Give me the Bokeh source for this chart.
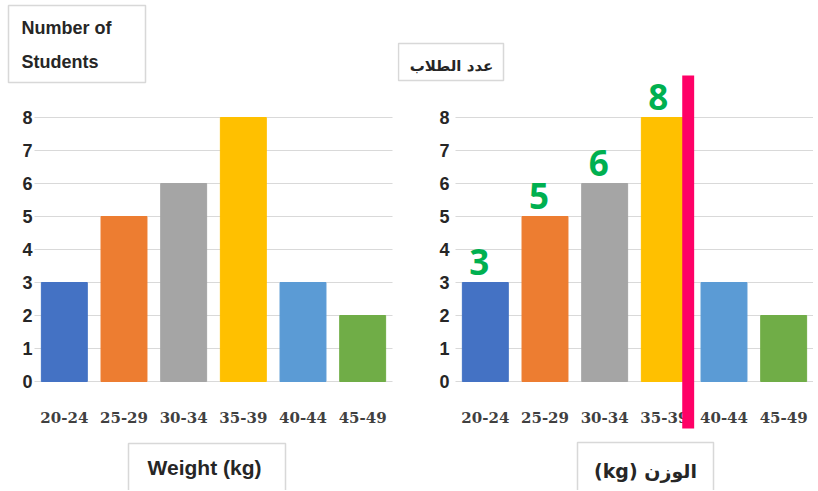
from bokeh.plotting import figure
from bokeh.models import Range1d, BoxAnnotation, Label, ColumnDataSource
from bokeh.layouts import row
from bokeh.embed import file_html
from bokeh.resources import INLINE
from bokeh.core.properties import value

# ---- data ----
categories = ["20-24", "25-29", "30-34", "35-39", "40-44", "45-49"]
counts = [3, 5, 6, 8, 3, 2]
bar_colors = ["#4472C4", "#ED7D31", "#A5A5A5", "#FFC000", "#5B9BD5", "#70AD47"]
y_ticks = [0, 1, 2, 3, 4, 5, 6, 7, 8]
labelled_categories = ["20-24", "25-29", "30-34", "35-39"]
labelled_counts = [3, 5, 6, 8]
cutoff_category = "40-44"

y_title_en = ["Number of", "Students"]
x_title_en = "Weight (kg)"
y_title_ar = "عدد الطلاب"
x_title_ar = "(kg) الوزن"

# ---- layout constants (pixels) ----
H = 490
BASE = 381.0           # pixel row of value 0
UNIT = 33.0            # pixels per student
CW = 358.0 / 6         # pixels per category
BOX_COLOR = "#7F7F7F"
TXT = "#262626"


class Panel:
    def __init__(self, canvas_left, canvas_width, area_left, ylab_off):
        self.cl = canvas_left
        self.al = area_left
        x0 = (canvas_left - area_left) / CW
        x1 = (canvas_left + canvas_width - area_left) / CW
        p = figure(x_range=Range1d(x0, x1), y_range=Range1d((BASE - H) / UNIT, BASE / UNIT),
                   width=canvas_width, height=H, output_backend="svg", toolbar_location=None,
                   x_axis_location=None, y_axis_location=None,
                   min_border_left=0, min_border_right=0, min_border_top=0, min_border_bottom=0)
        p.outline_line_color = None
        p.grid.visible = False
        p.background_fill_color = "white"
        p.border_fill_color = "white"
        self.p = p

        n = len(categories)
        centers = [i + 0.5 for i in range(n)]
        # grid lines
        p.segment(x0=[0] * len(y_ticks), x1=[n] * len(y_ticks), y0=y_ticks, y1=y_ticks,
                  line_color="#D9D9D9", line_width=1)
        # bars
        src = ColumnDataSource(dict(x=centers, count=counts, color=bar_colors))
        p.vbar(x="x", top="count", bottom=0, width=0.77, color="color", source=src)
        # y tick labels
        p.text(x=[0] * len(y_ticks), y=y_ticks, text=[str(t) for t in y_ticks],
               x_offset=ylab_off, text_align="right", text_baseline="middle",
               text_font=value("Liberation Sans"), text_font_style="bold",
               text_font_size="18px", text_color=TXT)
        # x tick labels
        p.text(x=centers, y=[0] * n, text=categories, y_offset=36,
               text_align="center", text_baseline="middle",
               text_font=value("DejaVu Serif"), text_font_style="bold",
               text_font_size="15px", text_color="#404040")

    def X(self, px):
        return (px - self.al) / CW

    @staticmethod
    def Y(py):
        return (BASE - py) / UNIT

    def box(self, l, r, t, b):
        self.p.add_layout(BoxAnnotation(left=self.X(l), right=self.X(r), top=self.Y(t), bottom=self.Y(b),
                                        fill_color=None, fill_alpha=0,
                                        line_color=BOX_COLOR, line_width=1.5))

    def label(self, px, py, text, size, font="Liberation Sans", style="bold", align="left"):
        self.p.add_layout(Label(x=self.X(px), y=self.Y(py), text=text,
                                text_font=font, text_font_size=size, text_font_style=style,
                                text_color=TXT, text_align=align, text_baseline="middle"))


# left panel (English)
L = Panel(0, 397, 34, -2)
L.box(8, 145, 5, 82)
L.label(21, 27, y_title_en[0], "18px")
L.label(21, 61.5, y_title_en[1], "18px")
L.box(128, 285, 443, 520)
L.label(204, 467, x_title_en, "21px", align="center")

# right panel (Arabic)
R = Panel(397, 416, 455, -6)
R.box(398, 503, 43, 80)
R.label(451, 65, y_title_ar, "15px", font="DejaVu Sans", style="bold", align="center")
R.box(577, 713, 442, 520)
R.label(645, 470, x_title_ar, "19px", font="DejaVu Sans", style="bold", align="center")

idx = [categories.index(c) for c in labelled_categories]
R.p.text(x=[i + 0.5 for i in idx], y=labelled_counts, text=[str(v) for v in labelled_counts],
         x_offset=-6, y_offset=-8, text_align="center", text_baseline="bottom",
         text_font=value("Open Sans"), text_font_style="bold", text_font_size="35px",
         text_color="#00B050")

cut = categories.index(cutoff_category)
R.p.add_layout(BoxAnnotation(left=cut - 0.2, right=cut, top=R.Y(75), bottom=R.Y(428),
                             fill_color="#FF0066", fill_alpha=1, line_color=None))

layout = row(L.p, R.p)
open("out.html", "w").write(file_html(layout, INLINE))
